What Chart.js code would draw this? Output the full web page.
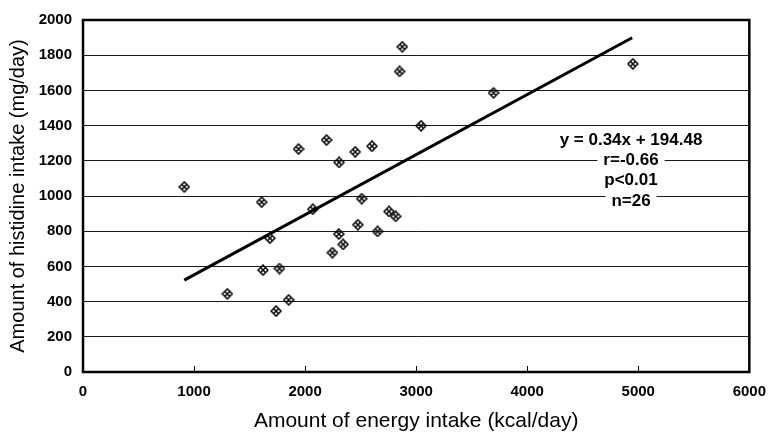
<!DOCTYPE html>
<html>
<head>
<meta charset="utf-8">
<script src="https://cdn.jsdelivr.net/npm/chart.js@4.4.1/dist/chart.umd.min.js"></script>
<style>
  html, body { margin: 0; padding: 0; background: #fff; }
  #wrap { width: 777px; height: 438px; }
</style>
</head>
<body>
<div id="wrap"><canvas id="scatterChart"></canvas></div>
<script>
// energy intake (kcal/day) and histidine intake (mg/day)
const energy = [912, 1609, 1621, 1300, 1769, 1852, 1739, 1683, 1941, 2069, 2193, 2306, 2451, 2602,
                2510, 2475, 2303, 2342, 2246, 2653, 2756, 2816, 2851, 2875, 3044, 3697, 4951];
const histidine = [1052, 965, 579, 444, 588, 410, 346, 760, 1267, 925, 1318, 1191, 1251, 1283,
                   985, 837, 784, 725, 678, 799, 912, 884, 1708, 1848, 1399, 1586, 1751];

// regression line end points
const trendX = [912, 4945];
const trendY = [522, 1899];

const statsText = ['y = 0.34x + 194.48', 'r=-0.66', 'p<0.01', 'n=26'];

const xTicks = [0, 1000, 2000, 3000, 4000, 5000, 6000];
const yTicks = [0, 200, 400, 600, 800, 1000, 1200, 1400, 1600, 1800, 2000];

// little hatched diamond like the printed marker
function makeMarker() {
    const c = document.createElement('canvas');
    c.width = 12; c.height = 12;
    const g = c.getContext('2d');
    g.strokeStyle = '#000';
    g.lineWidth = 1.5;
    g.beginPath();
    g.moveTo(6, 1); g.lineTo(11, 6); g.lineTo(6, 11); g.lineTo(1, 6); g.closePath();
    g.stroke();
    g.beginPath();
    g.moveTo(3.5, 3.5); g.lineTo(8.5, 8.5);
    g.moveTo(8.5, 3.5); g.lineTo(3.5, 8.5);
    g.stroke();
    return c;
}

const tickFont = { family: "'Liberation Sans', Arial, sans-serif", size: 15, weight: 'bold' };

const framePlugin = {
    id: 'frame',
    beforeDatasetsDraw(chart) {
        const { ctx, chartArea: a, scales } = chart;
        ctx.save();
        ctx.strokeStyle = '#000';
        ctx.lineWidth = 1;
        ctx.beginPath();
        xTicks.slice(1, -1).forEach(v => {
            const px = Math.round(scales.x.getPixelForValue(v)) + 0.5;
            ctx.moveTo(px, a.bottom);
            ctx.lineTo(px, a.bottom - 6);
        });
        ctx.stroke();
        ctx.lineWidth = 2.5;
        ctx.strokeRect(a.left, a.top, a.right - a.left, a.bottom - a.top);
        ctx.restore();
    },
    afterDraw(chart) {
        const { ctx } = chart;
        ctx.save();
        ctx.font = "bold 17px 'Liberation Sans', Arial, sans-serif";
        ctx.textAlign = 'center';
        ctx.textBaseline = 'middle';
        const cx = 631;
        statsText.forEach((t, i) => {
            const cy = 140 + i * 20.3;
            const w = ctx.measureText(t).width;
            if (i > 0) {
                ctx.fillStyle = '#fff';
                ctx.fillRect(cx - w / 2 - 6, cy - 10, w + 12, 20);
            }
            ctx.fillStyle = '#000';
            ctx.fillText(t, cx, cy);
        });
        ctx.restore();
    }
};

const ctx = document.getElementById('scatterChart');
new Chart(ctx, {
    type: 'scatter',
    data: {
        datasets: [
            {
                label: 'histidine',
                data: energy.map((e, i) => ({ x: e, y: histidine[i] })),
                pointStyle: makeMarker(),
                pointRadius: 6,
                pointHoverRadius: 6
            },
            {
                type: 'line',
                label: 'trend',
                data: trendX.map((e, i) => ({ x: e, y: trendY[i] })),
                borderColor: '#000',
                borderWidth: 3,
                pointRadius: 0,
                fill: false
            }
        ]
    },
    options: {
        responsive: true,
        maintainAspectRatio: false,
        animation: false,
        layout: { padding: { top: 16, right: 19, left: 0, bottom: 0 } },
        plugins: {
            legend: { display: false },
            tooltip: { enabled: false }
        },
        scales: {
            x: {
                type: 'linear',
                min: 0,
                max: 6000,
                afterBuildTicks: s => { s.ticks = xTicks.map(v => ({ value: v })); },
                ticks: { color: '#000', font: tickFont, padding: 11, maxRotation: 0, callback: v => String(v) },
                grid: { display: false, drawTicks: false },
                border: { display: false },
                title: {
                    display: true,
                    text: 'Amount of energy intake (kcal/day)',
                    color: '#000',
                    font: { family: "'Liberation Sans', Arial, sans-serif", size: 21 },
                    padding: { top: 4, bottom: 4 }
                },
                afterFit: s => { s.height = 66; }
            },
            y: {
                min: 0,
                max: 2000,
                afterBuildTicks: s => { s.ticks = yTicks.map(v => ({ value: v })); },
                ticks: { color: '#000', font: tickFont, padding: 11, callback: v => String(v) },
                grid: { color: '#1a1a1a', lineWidth: 1, drawTicks: false },
                border: { display: false },
                title: {
                    display: true,
                    text: 'Amount of histidine intake (mg/day)',
                    color: '#000',
                    font: { family: "'Liberation Sans', Arial, sans-serif", size: 20 },
                    padding: { top: 6, bottom: 6 }
                },
                afterFit: s => { s.width = 83; }
            }
        }
    },
    plugins: [framePlugin]
});
</script>
</body>
</html>
